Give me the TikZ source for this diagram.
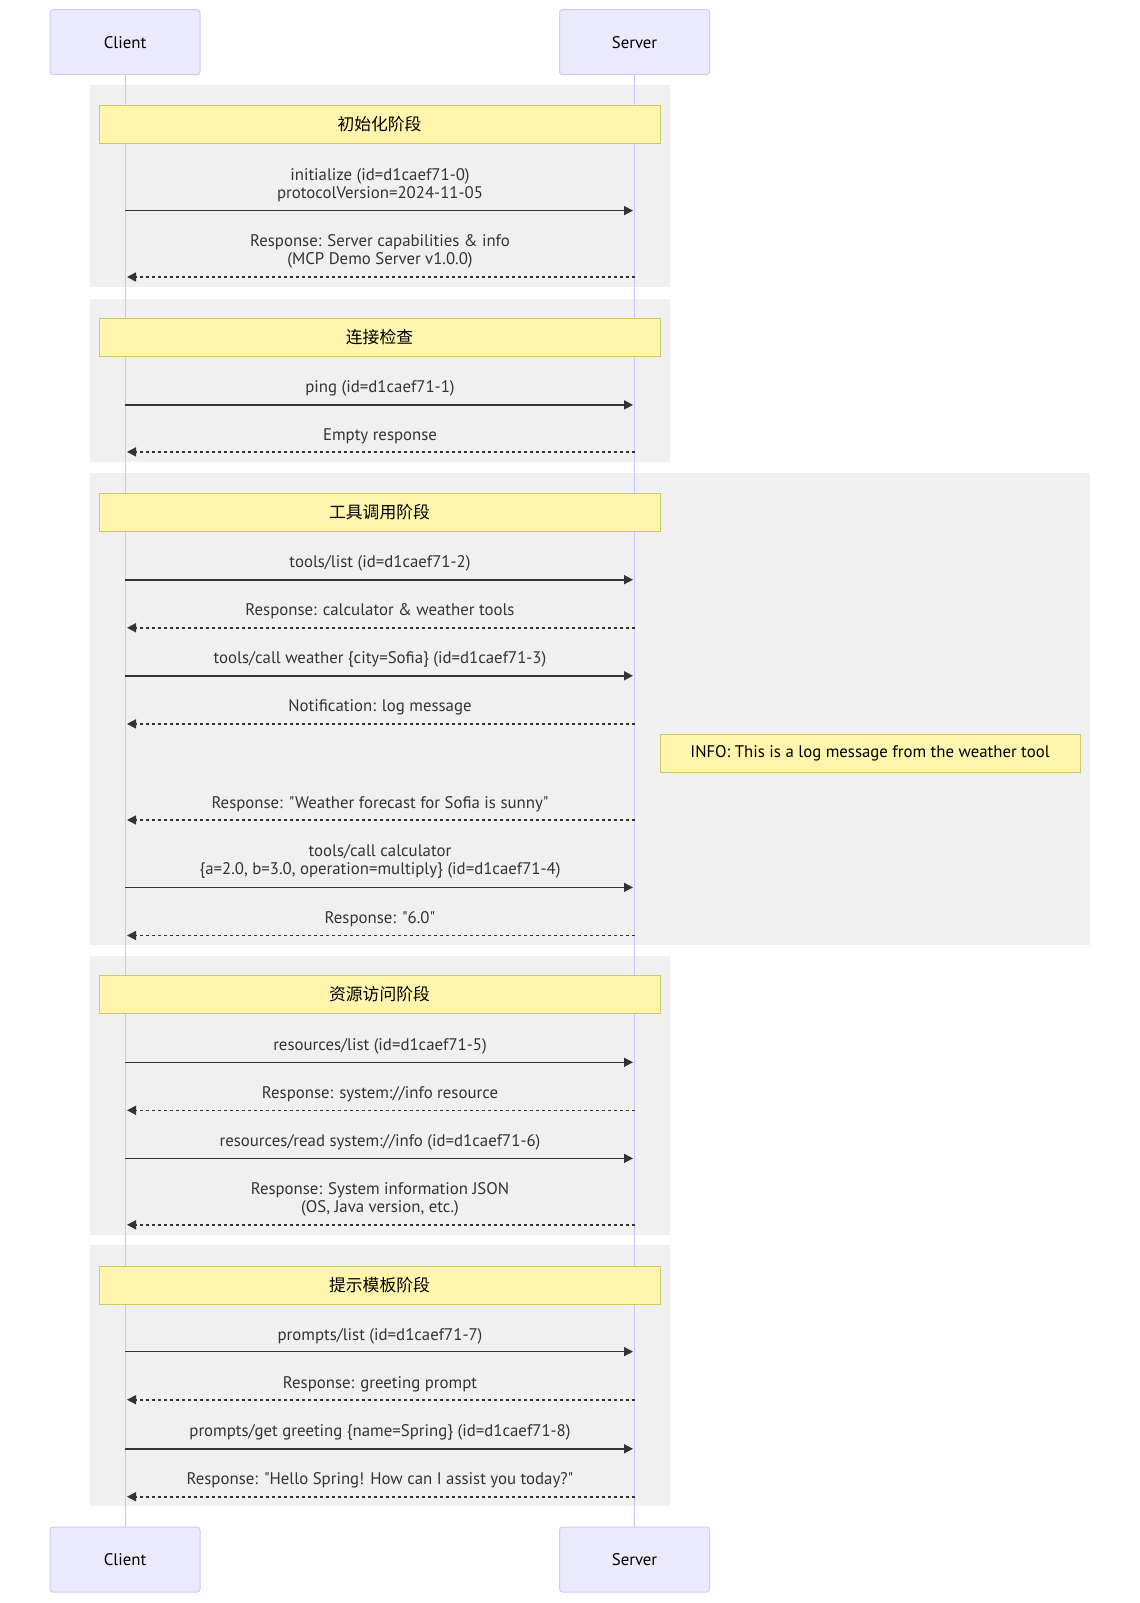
\documentclass[tikz,border=0pt]{standalone}
\usepackage{fontspec}
\setmainfont{PT Sans}[Ligatures=TeXOff]
\newfontfamily\cjk{Noto Sans CJK SC}
\usetikzlibrary{arrows.meta}
\definecolor{actorfill}{HTML}{EAEAFD}
\definecolor{actorborder}{HTML}{D2CAF5}
\definecolor{lifecol}{HTML}{CEC4F2}
\definecolor{notefill}{HTML}{FFF5AD}
\definecolor{noteborder}{HTML}{CFC866}
\definecolor{sectfill}{HTML}{F0F0F0}
\definecolor{ink}{HTML}{333333}
\begin{document}
\begin{tikzpicture}[x=1pt,y=-1pt,
  font=\fontsize{16.8}{18.4}\selectfont,
  actor/.style={draw=actorborder, fill=actorfill, rounded corners=3pt, line width=1pt,
    minimum width=150pt, minimum height=65pt, inner sep=0pt, text=black},
  notebox/.style={draw=noteborder, fill=notefill, line width=1pt, minimum width=561pt,
    minimum height=38pt, inner sep=0pt, text=black},
  sect/.style={fill=sectfill},
  life/.style={draw=lifecol, line width=1pt},
  reqline/.style={draw=ink, line width=1.6pt, shorten >=2pt,
    -{Triangle[length=9pt,width=9pt]}},
  repline/.style={draw=ink, line width=1.6pt, dash pattern=on 3pt off 3pt, shorten >=2pt,
    -{Triangle[length=9pt,width=9pt]}},
  lbl/.style={text=ink, align=center, inner sep=0pt, yshift=-2pt}]
\useasboundingbox (0,0) rectangle (1140,1603);
\fill[white] (0,0) rectangle (1140,1603);
% sections
\fill[sect] (90,85) rectangle (670,287);
\fill[sect] (90,298.5) rectangle (670,462);
\fill[sect] (90,473) rectangle (1090,945);
\fill[sect] (90,956) rectangle (670,1235);
\fill[sect] (90,1245) rectangle (670,1506);
% actors
\node[actor] (cT) at (125,42.2) {Client};
\node[actor] (sT) at (634.5,42.2) {Server};
\node[actor] (cB) at (125,1559.5) {Client};
\node[actor] (sB) at (634.5,1559.5) {Server};
\draw[life] (cT.south) -- (cB.north);
\draw[life] (sT.south) -- (sB.north);
% notes
\node[notebox] (n1) at (379.5,124) {\cjk 初始化阶段};
\node[notebox] (n2) at (379.5,337) {\cjk 连接检查};
\node[notebox] (n3) at (379.5,512) {\cjk 工具调用阶段};
\node[notebox] (n4) at (379.5,994.5) {\cjk 资源访问阶段};
\node[notebox] (n5) at (379.5,1285.5) {\cjk 提示模板阶段};
\node[notebox, minimum width=420pt] (n6) at (870,753) {INFO: This is a log message from the weather tool};
% messages
\coordinate (m1c) at (125,210.6); \coordinate (m1s) at (635,210.6);
\draw[reqline] (m1c) -- (m1s);
\node[lbl] (m1l) at (380,183) {initialize (id=d1caef71-0)\\protocolVersion=2024-11-05};
\coordinate (m2c) at (125,277); \coordinate (m2s) at (635,277);
\draw[repline] (m2s) -- (m2c);
\node[lbl] (m2l) at (380,249.5) {Response: Server capabilities \& info\\(MCP Demo Server v1.0.0)};
\coordinate (m3c) at (125,404.9); \coordinate (m3s) at (635,404.9);
\draw[reqline] (m3c) -- (m3s);
\node[lbl] (m3l) at (380,386.5) {ping (id=d1caef71-1)};
\coordinate (m4c) at (125,451.9); \coordinate (m4s) at (635,451.9);
\draw[repline] (m4s) -- (m4c);
\node[lbl] (m4l) at (380,434.5) {Empty response};
\coordinate (m5c) at (125,579.7); \coordinate (m5s) at (635,579.7);
\draw[reqline] (m5c) -- (m5s);
\node[lbl] (m5l) at (380,561.3) {tools/list (id=d1caef71-2)};
\coordinate (m6c) at (125,627.8); \coordinate (m6s) at (635,627.8);
\draw[repline] (m6s) -- (m6c);
\node[lbl] (m6l) at (380,609.4) {Response: calculator \& weather tools};
\coordinate (m7c) at (125,675.8); \coordinate (m7s) at (635,675.8);
\draw[reqline] (m7c) -- (m7s);
\node[lbl] (m7l) at (380,657.4) {tools/call weather \{city=Sofia\} (id=d1caef71-3)};
\coordinate (m8c) at (125,723.9); \coordinate (m8s) at (635,723.9);
\draw[repline] (m8s) -- (m8c);
\node[lbl] (m8l) at (380,705.5) {Notification: log message};
\coordinate (m9c) at (125,820); \coordinate (m9s) at (635,820);
\draw[repline] (m9s) -- (m9c);
\node[lbl] (m9l) at (380,802.6) {Response: "Weather forecast for Sofia is sunny"};
\coordinate (m10c) at (125,887.4); \coordinate (m10s) at (635,887.4);
\draw[reqline] (m10c) -- (m10s);
\node[lbl] (m10l) at (380,859.3) {tools/call calculator\\\{a=2.0, b=3.0, operation=multiply\} (id=d1caef71-4)};
\coordinate (m11c) at (125,935.5); \coordinate (m11s) at (635,935.5);
\draw[repline] (m11s) -- (m11c);
\node[lbl] (m11l) at (380,917.1) {Response: "6.0"};
\coordinate (m12c) at (125,1062.3); \coordinate (m12s) at (635,1062.3);
\draw[reqline] (m12c) -- (m12s);
\node[lbl] (m12l) at (380,1043.9) {resources/list (id=d1caef71-5)};
\coordinate (m13c) at (125,1110.3); \coordinate (m13s) at (635,1110.3);
\draw[repline] (m13s) -- (m13c);
\node[lbl] (m13l) at (380,1092) {Response: system://info resource};
\coordinate (m14c) at (125,1158.4); \coordinate (m14s) at (635,1158.4);
\draw[reqline] (m14c) -- (m14s);
\node[lbl] (m14l) at (380,1140) {resources/read system://info (id=d1caef71-6)};
\coordinate (m15c) at (125,1224.8); \coordinate (m15s) at (635,1224.8);
\draw[repline] (m15s) -- (m15c);
\node[lbl] (m15l) at (380,1197.2) {Response: System information JSON\\(OS, Java version, etc.)};
\coordinate (m16c) at (125,1351.6); \coordinate (m16s) at (635,1351.6);
\draw[reqline] (m16c) -- (m16s);
\node[lbl] (m16l) at (380,1334.2) {prompts/list (id=d1caef71-7)};
\coordinate (m17c) at (125,1399.7); \coordinate (m17s) at (635,1399.7);
\draw[repline] (m17s) -- (m17c);
\node[lbl] (m17l) at (380,1382.3) {Response: greeting prompt};
\coordinate (m18c) at (125,1448.8); \coordinate (m18s) at (635,1448.8);
\draw[reqline] (m18c) -- (m18s);
\node[lbl] (m18l) at (380,1430.4) {prompts/get greeting \{name=Spring\} (id=d1caef71-8)};
\coordinate (m19c) at (125,1496.7); \coordinate (m19s) at (635,1496.7);
\draw[repline] (m19s) -- (m19c);
\node[lbl] (m19l) at (380,1478.4) {Response: "Hello Spring! How can I assist you today?"};
\end{tikzpicture}
\end{document}
